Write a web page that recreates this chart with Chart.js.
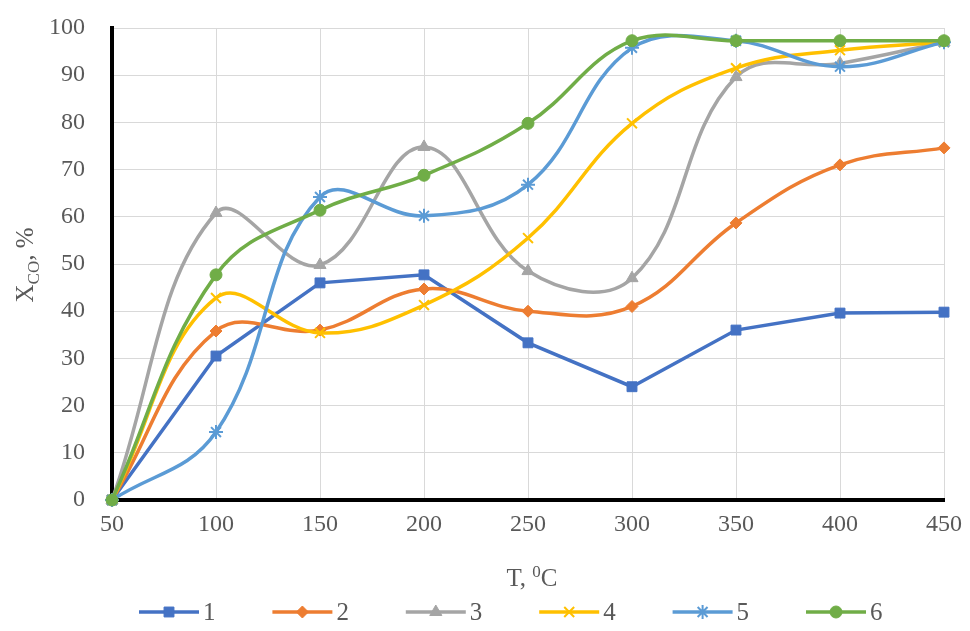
<!DOCTYPE html>
<html>
<head>
<meta charset="utf-8">
<script src="https://cdn.jsdelivr.net/npm/chart.js@4.4.0/dist/chart.umd.min.js"></script>
<style>
  html, body { margin: 0; padding: 0; background: #fff; }
  #wrap { width: 970px; height: 631px; }
</style>
</head>
<body>
<div id="wrap"><canvas id="chart"></canvas></div>
<script>
// data
const temps = [50, 100, 150, 200, 250, 300, 350, 400, 450];
const yTicks = [0, 10, 20, 30, 40, 50, 60, 70, 80, 90, 100];
const seriesNames = ["1", "2", "3", "4", "5", "6"];
const s1 = [0, 30.5, 46, 47.7, 33.3, 24, 36, 39.6, 39.8];
const s2 = [0, 35.8, 36, 44.7, 40, 41, 58.7, 71, 74.6];
const s3 = [0, 60.8, 49.8, 74.8, 48.5, 47, 89.6, 92.5, 97];
const s4 = [0, 42.8, 35.4, 41.3, 55.5, 79.8, 91.5, 95.3, 97];
const s5 = [0, 14.4, 64.2, 60.2, 66.8, 95.8, 97.3, 91.8, 97];
const s6 = [0, 47.7, 61.4, 68.8, 79.8, 97.3, 97.3, 97.3, 97.3];

const colors = ["#4472C4", "#ED7D31", "#A5A5A5", "#FFC000", "#5B9BD5", "#70AD47"];
const markers = ["rect", "rectRot", "triangle", "crossRot", "star", "circle"];
const radii = [7, 6, 7, 7, 7, 6];
const allSeries = [s1, s2, s3, s4, s5, s6];
const FONT = "'Liberation Serif', 'Times New Roman', serif";
const TEXT = "#595959";

const datasets = allSeries.map((vals, i) => ({
  label: seriesNames[i],
  data: vals,
  borderColor: colors[i],
  backgroundColor: colors[i],
  borderWidth: 3.5,
  pointStyle: markers[i],
  pointRadius: radii[i],
  pointBorderWidth: (markers[i] === "crossRot" || markers[i] === "star") ? 2 : 1,
  pointBackgroundColor: colors[i],
  pointBorderColor: colors[i],
  tension: i === 0 ? 0 : 0.4,
  order: 6 - i,
  clip: false
}));

// axis titles with sub/superscript and the line+marker legend
const extras = {
  id: "extras",
  afterDraw(chart) {
    const ctx = chart.ctx;
    ctx.save();
    ctx.fillStyle = TEXT;
    ctx.textBaseline = "alphabetic";

    // y title: X_CO, %
    ctx.translate(33, 265);
    ctx.rotate(-Math.PI / 2);
    const big = "25px " + FONT, small = "17px " + FONT;
    ctx.font = big; const wX = ctx.measureText("X").width; const wR = ctx.measureText(", %").width;
    ctx.font = small; const wS = ctx.measureText("CO").width;
    let x = -(wX + wS + wR) / 2;
    ctx.textAlign = "left";
    ctx.font = big; ctx.fillText("X", x, 0); x += wX;
    ctx.font = small; ctx.fillText("CO", x, 6); x += wS;
    ctx.font = big; ctx.fillText(", %", x, 0);
    ctx.restore();

    // x title: T, ^0C
    ctx.save();
    ctx.fillStyle = TEXT;
    ctx.font = big; const a = ctx.measureText("T, ").width; const c = ctx.measureText("C").width;
    ctx.font = small; const b = ctx.measureText("0").width;
    let tx = 532 - (a + b + c) / 2;
    const ty = 586;
    ctx.font = big; ctx.fillText("T, ", tx, ty); tx += a;
    ctx.font = small; ctx.fillText("0", tx, ty - 9); tx += b;
    ctx.font = big; ctx.fillText("C", tx, ty);

    // legend
    const ly = 612;
    chart.data.datasets.forEach((ds, i) => {
      const x0 = 139 + i * 133.4;
      ctx.strokeStyle = ds.borderColor;
      ctx.lineWidth = 3.5;
      ctx.beginPath(); ctx.moveTo(x0, ly); ctx.lineTo(x0 + 60, ly); ctx.stroke();
      ctx.fillStyle = ds.backgroundColor;
      ctx.lineWidth = ds.pointBorderWidth;
      Chart.helpers.drawPoint(ctx, { pointStyle: ds.pointStyle, radius: ds.pointRadius, rotation: 0, borderWidth: ds.pointBorderWidth }, x0 + 30, ly);
      ctx.fillStyle = TEXT;
      ctx.font = big;
      ctx.textBaseline = "middle";
      ctx.fillText(ds.label, x0 + 64, ly + 1);
    });
    ctx.restore();
  }
};

new Chart(document.getElementById("chart"), {
  type: "line",
  data: { labels: temps, datasets: datasets },
  options: {
    responsive: true,
    maintainAspectRatio: false,
    animation: false,
    layout: { padding: { left: 0, top: 28, right: 26, bottom: 0 } },
    plugins: { legend: { display: false }, tooltip: { enabled: false } },
    scales: {
      x: {
        type: "category",
        offset: false,
        grid: { color: "#D9D9D9", lineWidth: 1, drawTicks: false },
        border: { color: "#000", width: 4 },
        ticks: { color: TEXT, font: { family: FONT, size: 24 }, padding: 10, maxRotation: 0, autoSkip: false },
        afterFit(scale) { scale.height = 131; scale.paddingTop = 0; scale.paddingRight = 0; }
      },
      y: {
        min: 0,
        max: 100,
        afterBuildTicks(scale) { scale.ticks = yTicks.map(v => ({ value: v })); },
        grid: { color: "#D9D9D9", lineWidth: 1, drawTicks: false },
        border: { color: "#000", width: 4 },
        ticks: { color: TEXT, font: { family: FONT, size: 24 }, padding: 27 },
        afterFit(scale) { scale.width = 112; scale.paddingTop = 0; scale.paddingBottom = 0; }
      }
    }
  },
  plugins: [extras]
});
</script>
</body>
</html>
